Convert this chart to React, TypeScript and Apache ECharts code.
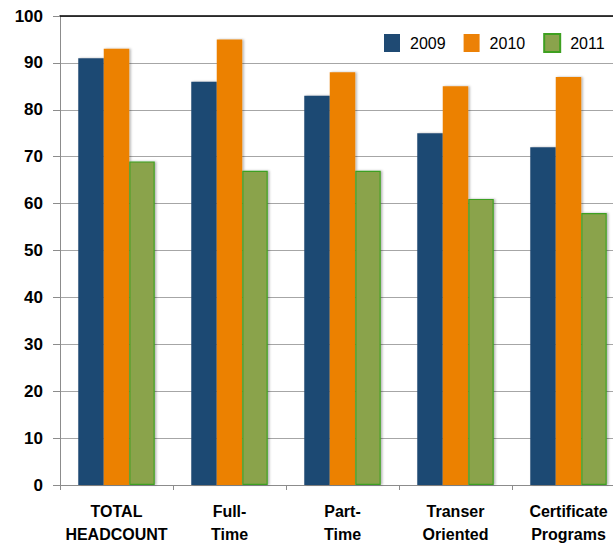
import React, { useEffect, useRef } from "react";
import * as echarts from "echarts";

const categories = ["TOTAL\nHEADCOUNT", "Full-\nTime", "Part-\nTime", "Transer\nOriented", "Certificate\nPrograms"];
const seriesNames = ["2009", "2010", "2011"];
const values2009 = [91, 86, 83, 75, 72];
const values2010 = [93, 95, 88, 85, 87];
const values2011 = [69, 67, 67, 61, 58];
const yTicks = { min: 0, max: 100, interval: 10 };

const FONT = "'Liberation Sans', Arial, sans-serif";

export default function App() {
  const ref = useRef<HTMLDivElement>(null);
  useEffect(() => {
    if (!ref.current) return;
    const chart = echarts.init(ref.current, undefined, { renderer: "svg" });
    const shadow = { shadowColor: "rgba(0,0,0,0.3)", shadowBlur: 2, shadowOffsetX: 1.5, shadowOffsetY: 0 };
    const colors = ["#1f4a73", "#ec8106", "#8aa34c"];
    const data = [values2009, values2010, values2011];
    chart.setOption({
      animation: false,
      backgroundColor: "#ffffff",
      legend: {
        left: 384,
        top: 33,
        width: 400,
        padding: 0,
        itemWidth: 16,
        itemHeight: 18,
        itemGap: 18,
        icon: "rect",
        textStyle: { fontFamily: FONT, fontSize: 16, color: "#000", padding: [0, 0, 0, 5] },
        data: seriesNames,
      },
      grid: { left: 60, top: 16, height: 469, width: 565, containLabel: false, outerBoundsMode: "none" },
      xAxis: [
        {
          type: "category",
          data: categories,
          axisLine: { lineStyle: { color: "#8c8c8c", width: 1 } },
          axisTick: { show: true, length: 5, lineStyle: { color: "#8c8c8c" } },
          axisLabel: {
            fontFamily: FONT,
            fontWeight: "bold",
            fontSize: 16,
            lineHeight: 23,
            color: "#000",
            margin: 15,
            interval: 0,
          },
        },
        {
          type: "category",
          position: "top",
          data: categories,
          axisLine: { lineStyle: { color: "#000", width: 1.5 } },
          axisTick: { show: false },
          axisLabel: { show: false },
        },
      ],
      yAxis: {
        type: "value",
        min: yTicks.min,
        max: yTicks.max,
        interval: yTicks.interval,
        axisLine: { show: true, lineStyle: { color: "#8c8c8c" } },
        axisTick: { show: true, length: 7, lineStyle: { color: "#8c8c8c" } },
        axisLabel: { fontFamily: FONT, fontWeight: "bold", fontSize: 17, color: "#000", margin: 17 },
        splitLine: { show: true, lineStyle: { color: "#a6a6a6", width: 1 } },
      },
      series: seriesNames.map((name, i) => ({
        name,
        type: "bar",
        data: data[i],
        barWidth: 25.5,
        barGap: "0%",
        itemStyle: {
          color: colors[i],
          borderColor: i === 2 ? "#3ea020" : undefined,
          borderWidth: i === 2 ? 1.2 : 0,
          ...shadow,
        },
      })),
    });
    return () => chart.dispose();
  }, []);
  return <div ref={ref} style={{ width: 613, height: 548, position: "absolute", left: 0, top: 0 }} />;
}
